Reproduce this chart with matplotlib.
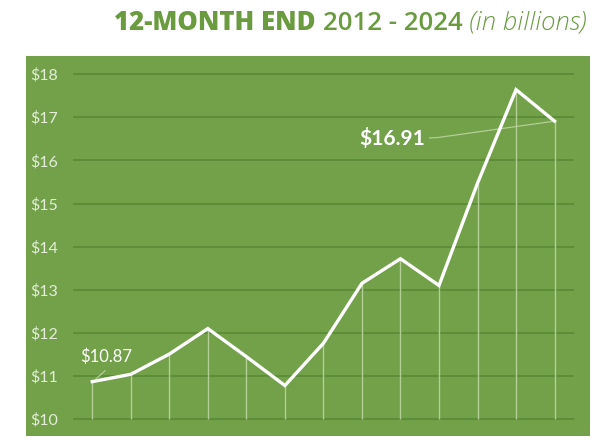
import matplotlib.pyplot as plt

# 12-month end values, 2012 - 2024 (billions)
years = list(range(2012, 2025))
values = [10.87, 11.04, 11.51, 12.10, 11.45, 10.78, 11.76, 13.15, 13.72, 13.10, 15.47, 17.64, 16.91]
yticks = [10, 11, 12, 13, 14, 15, 16, 17, 18]
ytick_labels = [f"${v}" for v in yticks]

BG = '#72a14a'
GRID = '#5b8a37'
DROP = '#b3cf95'
TXT = '#e4edd9'
TITLE = '#6a9b3f'

plt.rcParams['font.family'] = ['Lato', 'DejaVu Sans']

fig = plt.figure(figsize=(5.98, 4.46), dpi=100)
W, H = 598, 446
# axes covers the green panel
ax = fig.add_axes([26 / W, (H - 436) / H, (590 - 26) / W, (436 - 56) / H])
ax.set_facecolor(BG)
for s in ax.spines.values():
    s.set_visible(False)

x = list(range(len(years)))
ax.set_xlim(-1.72, 12.92)
ax.set_ylim(9.61, 18.42)

# horizontal gridlines only across the category span
ax.hlines(yticks, -0.5, len(years) - 0.5, color=GRID, linewidth=1.2, zorder=1)
# drop lines
ax.vlines(x, yticks[0], values, color=DROP, linewidth=1.0, zorder=2)
# main line
ax.plot(x, values, color='white', linewidth=2.4, solid_joinstyle='miter', zorder=3)

ax.set_xticks([])
ax.set_yticks(yticks)
ax.set_yticklabels(ytick_labels)
ax.tick_params(axis='y', length=0, pad=-23, labelsize=11.5, labelcolor=TXT)

# data labels with leader lines
ax.plot([0.1, 0.33], [10.94, 11.12], color=DROP, linewidth=0.9, zorder=3)
ax.text(0.35, 11.44, f"${values[0]:.2f}", color='white', fontsize=12,
        ha='center', va='center', zorder=4)

ax.plot([8.76, 8.97, 12], [16.52, 16.53, values[-1]], color=DROP, linewidth=0.9, zorder=2)
ax.text(7.78, 16.51, f"${values[-1]:.2f}", color='white', fontsize=15,
        fontweight='bold', ha='center', va='center', zorder=4)

# title, built right to left
t3 = fig.text(587 / W, 1 - 23 / H, "(in billions)", color=TITLE, fontsize=18.5,
              style='italic', fontweight='light', ha='right', va='center',
              family=['Open Sans', 'DejaVu Sans'])
t2 = ax.annotate("2012 - 2024 ", xy=(0, 0.5), xycoords=t3, color=TITLE, fontsize=18.5,
                 fontweight='semibold', ha='right', va='center',
                 family=['Open Sans', 'DejaVu Sans'], annotation_clip=False)
t1 = ax.annotate("12-MONTH END ", xy=(0, 0.5), xycoords=t2, color=TITLE, fontsize=18.5,
                 fontweight='heavy', ha='right', va='center',
                 family=['Open Sans', 'DejaVu Sans'], annotation_clip=False)

fig.savefig('out.png', dpi=100)
